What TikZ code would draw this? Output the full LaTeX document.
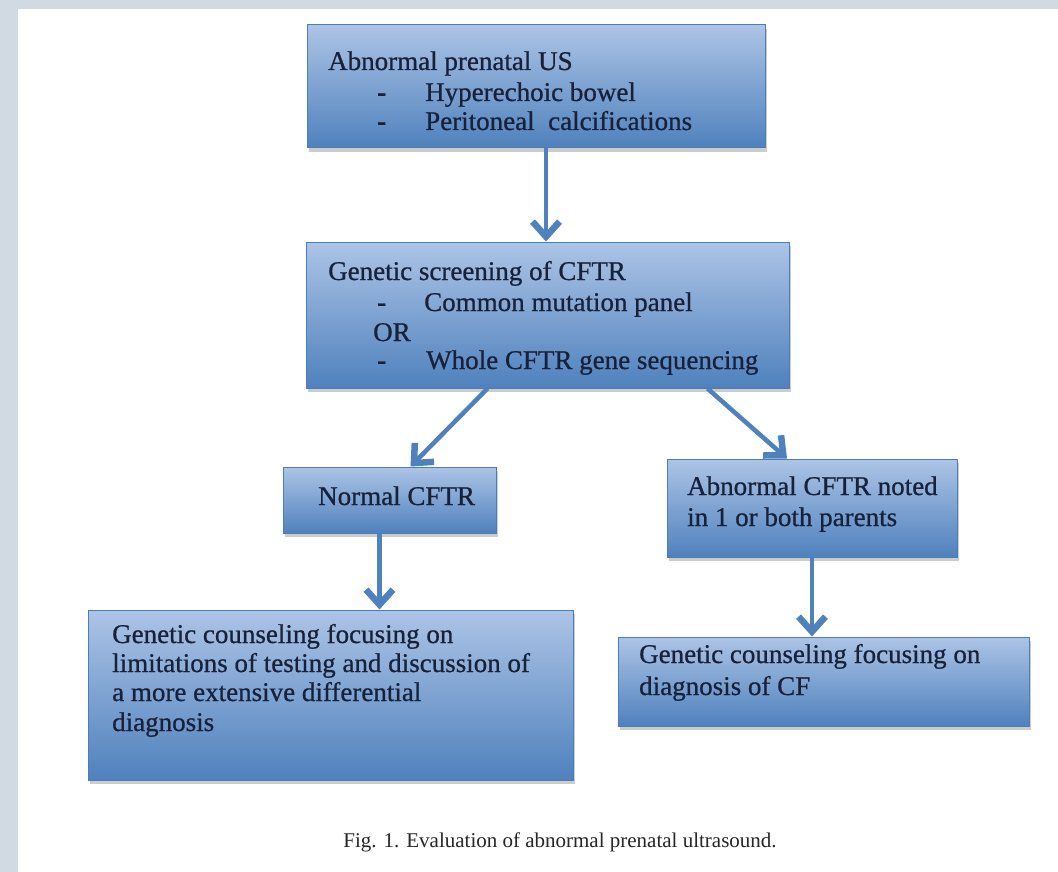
\documentclass[tikz,border=0pt]{standalone}
\usepackage{fontspec}
\setmainfont{Liberation Serif}
\newfontfamily\boxfont[FakeBold=0.7]{Liberation Serif}
\usetikzlibrary{arrows.meta,shadows,calc}
\definecolor{bgray}{HTML}{D1DAE2}
\definecolor{boxtop}{HTML}{ADC4E6}
\definecolor{boxbot}{HTML}{4F81BD}
\definecolor{boxline}{HTML}{4A7DBA}
\definecolor{arrowc}{HTML}{4F81BD}
\definecolor{txt}{HTML}{17213A}
\definecolor{captxt}{HTML}{262626}
\begin{document}
\begin{tikzpicture}[x=1pt,y=-1pt,
  box/.style={rectangle, draw=boxline, line width=1pt, top color=boxtop, bottom color=boxbot,
    inner sep=0pt, drop shadow={shadow xshift=1.5pt, shadow yshift=-4pt, fill=black, opacity=0.2}},
  lbl/.style={anchor=base west, inner sep=0pt, text=txt, font=\boxfont\fontsize{27}{30}\selectfont},
  arr/.style={draw=arrowc, line width=4.5pt, -{Straight Barb[length=15pt,width=27pt,line width=6.5pt 0]}},
  captionstyle/.style={anchor=base, inner sep=0pt, text=captxt, font=\fontsize{21}{24}\selectfont}
]
\useasboundingbox (0,0) rectangle (1058,872);
\fill[bgray] (0,0) rectangle (1058,872);
\fill[white] (18,9) rectangle (1058,872);

% boxes
\node[box, minimum width=458pt, minimum height=123pt] (top) at (536,86.5) {};
\node[box, minimum width=483pt, minimum height=146pt] (mid) at (547.5,315) {};
\node[box, minimum width=213pt, minimum height=66pt] (normal) at (389.5,500) {};
\node[box, minimum width=290pt, minimum height=98pt] (ab) at (812,508) {};
\node[box, minimum width=485pt, minimum height=170pt] (lb) at (330.5,695) {};
\node[box, minimum width=411pt, minimum height=89pt] (rb) at (823.5,681.5) {};

% top box text
\node[lbl] (t1) at (328,70) {Abnormal prenatal US};
\node[lbl] (t2d) at (377,101) {\textbf{-}};
\node[lbl] (t2) at (425,101) {Hyperechoic bowel};
\node[lbl] (t3d) at (377,130) {\textbf{-}};
\node[lbl] (t3) at (425,130) {Peritoneal\ \ calcifications};

% middle box text
\node[lbl] (m1) at (328,280) {Genetic screening of CFTR};
\node[lbl] (m2d) at (377,311) {\textbf{-}};
\node[lbl] (m2) at (424,311) {Common mutation panel};
\node[lbl] (m3) at (373,341) {OR};
\node[lbl] (m4d) at (377,369) {\textbf{-}};
\node[lbl] (m4) at (426,369) {Whole CFTR gene sequencing};

% normal
\node[lbl] (n1) at (318,505) {Normal CFTR};

% abnormal
\node[lbl] (a1) at (687,495) {Abnormal CFTR noted};
\node[lbl] (a2) at (687,526) {in 1 or both parents};

% left bottom
\node[lbl] (l1) at (112,643) {Genetic counseling focusing on};
\node[lbl] (l2) at (112,672) {limitations of testing and discussion of};
\node[lbl] (l3) at (112,701) {a more extensive differential};
\node[lbl] (l4) at (112,731) {diagnosis};

% right bottom
\node[lbl] (r1) at (639,663) {Genetic counseling focusing on};
\node[lbl] (r2) at (639,695) {diagnosis of CF};

% caption
\node[captionstyle] (caption) at (560,847) {Fig. 1. Evaluation of abnormal prenatal ultrasound.};

% arrows
\draw[arr] ([xshift=-1.5pt]mid.north |- top.south) -- ([xshift=-1.5pt]mid.north);
\draw[arr] ([xshift=-60pt]mid.south) -- ([xshift=21pt]normal.north);
\draw[arr] ([xshift=160pt]mid.south) -- ([xshift=-25pt]ab.north);
\draw[arr] ([xshift=-10pt]normal.south) -- ([xshift=-10pt]normal.south |- lb.north);
\draw[arr] (ab.south) -- (ab.south |- rb.north);
\end{tikzpicture}
\end{document}
